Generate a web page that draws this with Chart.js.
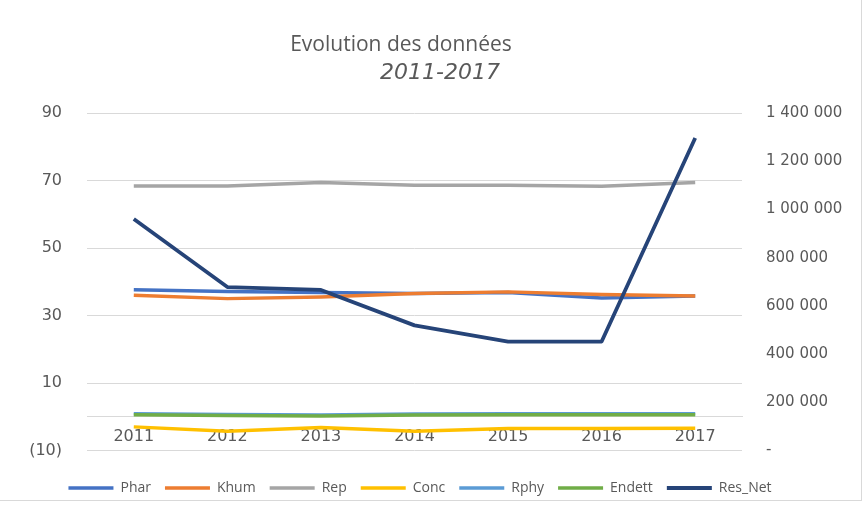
<!DOCTYPE html>
<html lang="fr">
<head>
<meta charset="utf-8">
<title>Evolution des données</title>
<script src="https://cdn.jsdelivr.net/npm/chart.js@4.4.1/dist/chart.umd.min.js"></script>
<style>
  html, body { margin: 0; padding: 0; background: #fff; }
  #cadre { position: relative; width: 864px; height: 505px; }
  #bord { position: absolute; left: 0; top: 0; width: 861px; height: 500px;
          border-right: 1px solid #d9d9d9; border-bottom: 1px solid #d9d9d9; pointer-events: none; }
  canvas { position: absolute; left: 0; top: 0; }
</style>
</head>
<body>
<div id="cadre">
  <canvas id="graphe" width="864" height="505"></canvas>
  <div id="bord"></div>
</div>
<script>
const titre = 'Evolution des données';
const sousTitre = '2011-2017';

const annees = ['2011', '2012', '2013', '2014', '2015', '2016', '2017'];

// axe de gauche (ratios)
const phar = [37.6, 37.1, 36.8, 36.5, 36.8, 35.2, 35.8];
const khum = [36.0, 35.0, 35.5, 36.5, 37.0, 36.2, 35.8];
const rep = [68.4, 68.4, 69.4, 68.6, 68.6, 68.3, 69.4];
const conc = [-3.0, -4.3, -3.2, -4.3, -3.5, -3.5, -3.4];
const rphy = [0.9, 0.7, 0.5, 0.8, 0.9, 0.9, 0.9];
const endett = [0.6, 0.4, 0.2, 0.5, 0.6, 0.6, 0.6];

// axe de droite
const resNet = [960000, 678000, 666000, 519000, 452000, 452000, 1296000];

const gris = '#595959';
const police = (taille, famille) => ({ family: famille || '"DejaVu Sans", sans-serif', size: taille });

const milliers = v => String(v).replace(/\B(?=(\d{3})+(?!\d))/g, ' ');

// titre sur deux lignes, la seconde en italique
const titres = {
    id: 'titres',
    afterDraw(chart) {
        const ctx = chart.ctx;
        ctx.save();
        ctx.fillStyle = gris;
        ctx.textAlign = 'center';
        ctx.textBaseline = 'middle';
        ctx.font = '21px "Open Sans"';
        ctx.fillText(titre, 401, 45);
        ctx.font = 'italic 22px "DejaVu Sans"';
        ctx.fillText(sousTitre, 440, 73);
        ctx.restore();
    }
};

const serie = (label, data, couleur, ordre, axe, epaisseur) => ({
    label: label,
    data: data,
    borderColor: couleur,
    backgroundColor: couleur,
    borderWidth: epaisseur || 3.5,
    pointRadius: 0,
    tension: 0,
    fill: false,
    borderJoinStyle: 'round',
    order: ordre,
    yAxisID: axe || 'y'
});

const ctx = document.getElementById('graphe');

new Chart(ctx, {
    type: 'line',
    data: {
        labels: annees,
        datasets: [
            serie('Phar', phar, '#4472C4', 6),
            serie('Khum', khum, '#ED7D31', 5),
            serie('Rep', rep, '#A5A5A5', 4),
            serie('Conc', conc, '#FFC000', 3),
            serie('Rphy', rphy, '#5B9BD5', 2),
            serie('Endett', endett, '#70AD47', 1),
            serie('Res_Net', resNet, '#264478', 0, 'y1', 3.8)
        ]
    },
    plugins: [titres],
    options: {
        responsive: false,
        animation: false,
        // la légende est centrée un peu à gauche du milieu
        layout: { padding: { left: -24, right: 0, top: 113, bottom: 0 } },
        plugins: {
            title: { display: false },
            tooltip: { enabled: false },
            legend: {
                position: 'bottom',
                labels: {
                    usePointStyle: true,
                    pointStyle: 'line',
                    pointStyleWidth: 45,
                    padding: 14,
                    color: gris,
                    font: police(14, '"Open Sans", sans-serif'),
                    sort: (a, b) => a.datasetIndex - b.datasetIndex
                }
            }
        },
        scales: {
            x: {
                type: 'category',
                position: { y: 0 },
                offset: true,
                grid: { drawOnChartArea: false, drawTicks: false },
                border: { display: true, color: '#D9D9D9', width: 1 },
                ticks: { color: gris, font: police(16), padding: 10, maxRotation: 0 }
            },
            // marge entre la zone du graphique et la légende
            marge: {
                type: 'category',
                position: 'bottom',
                grid: { display: false },
                border: { display: false },
                ticks: { display: false },
                afterFit: s => { s.height = 16.5; }
            },
            y: {
                position: 'left',
                min: -10,
                max: 90,
                ticks: {
                    stepSize: 20,
                    color: gris,
                    font: police(16),
                    padding: 25,
                    callback: v => v < 0 ? `(${-v})` : `${v}`
                },
                grid: { color: '#D9D9D9', drawTicks: false },
                border: { display: false },
                afterFit: s => { s.width = 111; }
            },
            y1: {
                position: 'right',
                min: 0,
                max: 1400000,
                ticks: {
                    stepSize: 200000,
                    color: gris,
                    font: police(15),
                    padding: 24,
                    callback: v => v === 0 ? '-' : milliers(v)
                },
                grid: { drawOnChartArea: false, drawTicks: false },
                border: { display: false },
                afterFit: s => { s.width = 122; }
            }
        }
    }
});
</script>
</body>
</html>
